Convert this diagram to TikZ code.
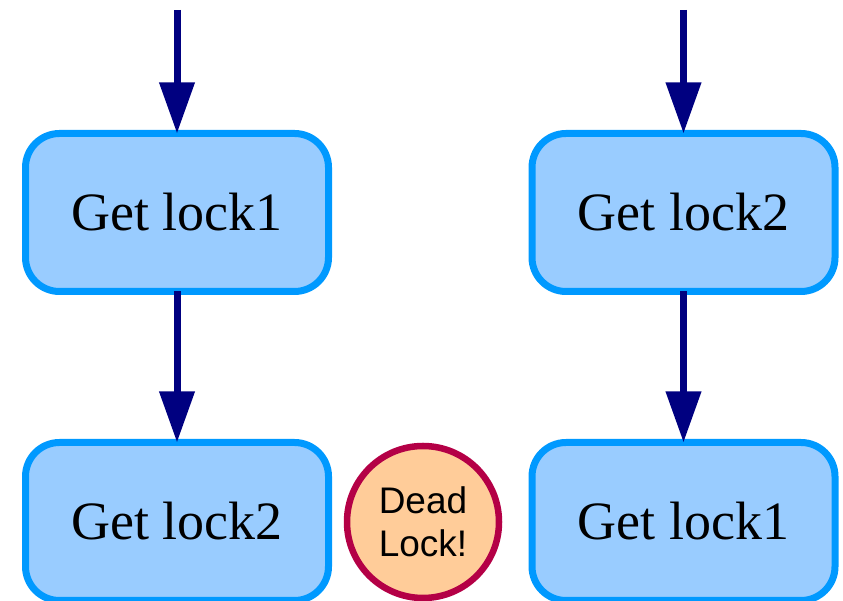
\documentclass[tikz,border=0pt]{standalone}
\usepackage{fontspec}
\setmainfont{Liberation Serif}
\newfontfamily\signfont{Liberation Sans}
\usetikzlibrary{arrows.meta}

\definecolor{boxfill}{RGB}{153,204,255}
\definecolor{boxline}{RGB}{0,153,255}
\definecolor{flow}{RGB}{0,0,128}
\definecolor{signfill}{RGB}{255,204,153}
\definecolor{signline}{RGB}{180,0,70}

\tikzset{
  lockbox/.style={draw=boxline,fill=boxfill,line width=7pt,rounded corners=34pt,
    minimum width=303pt,minimum height=158pt,outer sep=0pt,
    font=\fontsize{54}{62}\selectfont},
  deadsign/.style={circle,draw=signline,fill=signfill,line width=6.5pt,
    minimum size=152pt,inner sep=0pt,outer sep=0pt,align=center,
    font=\signfont\fontsize{37}{43}\selectfont},
  flowarrow/.style={draw=flow,line width=7pt,-{Triangle[length=51pt,width=34pt]}}
}

\begin{document}
\begin{tikzpicture}[x=1pt,y=1pt]
        \useasboundingbox (0,0) rectangle (843,601);

        % left thread
        \coordinate (lstart) at (177,591);
        \node[lockbox] (lfirst) at (177,388.5) {Get lock1};
        \node[lockbox] (lsecond) at (177,79.5) {Get lock2};

        % right thread
        \coordinate (rstart) at (683.5,591);
        \node[lockbox] (rfirst) at (683.5,388.5) {Get lock2};
        \node[lockbox] (rsecond) at (683.5,79.5) {Get lock1};

        % the sign between them
        \node[deadsign] (dead) at (423,79) {Dead\\Lock!};

        \draw[flowarrow] (lstart) -- (lfirst.north);
        \draw[flowarrow] (lfirst.south) -- (lsecond.north);
        \draw[flowarrow] (rstart) -- (rfirst.north);
        \draw[flowarrow] (rfirst.south) -- (rsecond.north);
    \end{tikzpicture}
\end{document}
